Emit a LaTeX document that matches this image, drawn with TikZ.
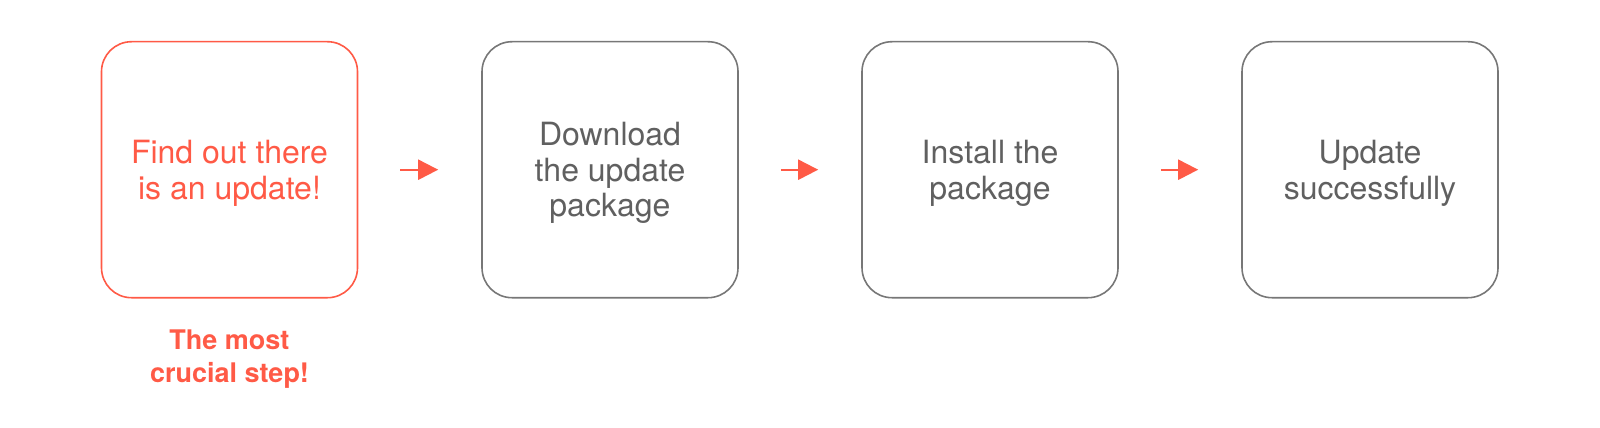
\documentclass[tikz,border=0pt]{standalone}
\usepackage{fontspec}
\setmainfont{TeX Gyre Heros}
\usetikzlibrary{arrows.meta}
\definecolor{accent}{HTML}{FF5A46}
\definecolor{txtgray}{HTML}{606060}
\definecolor{boxgray}{HTML}{777777}
\begin{document}
\begin{tikzpicture}[x=1pt,y=-1pt,
  stepbox/.style={draw=boxgray, line width=1.6pt, rounded corners=30pt,
    minimum width=256pt, minimum height=256pt, inner sep=0pt,
    align=center, text=txtgray, text depth=0pt,
    font=\fontsize{32}{35.5}\selectfont},
  hotbox/.style={stepbox, draw=accent, text=accent},
  flow/.style={draw=accent, line width=2.2pt,
    -{Triangle[length=20pt,width=20pt]}},
  note/.style={align=center, text=accent, inner sep=0pt, text depth=0pt,
    font=\bfseries\fontsize{27}{33}\selectfont}]
  \useasboundingbox (0,0) rectangle (1600,428);
  \node[hotbox]  (b1) at (229.5,169.7) {Find out there\\is an update!};
  \node[stepbox] (b2) at (610,169.7) {Download\\the update\\package};
  \node[stepbox] (b3) at (990,169.7) {Install the\\package};
  \node[stepbox] (b4) at (1370,169.7) {Update\\successfully};
  \node[note] (n1) at (229.5,356.5) {The most\\crucial step!};
  \draw[flow] ([xshift=42pt]b1.east) -- ([xshift=-43pt]b2.west);
  \draw[flow] ([xshift=42pt]b2.east) -- ([xshift=-43pt]b3.west);
  \draw[flow] ([xshift=42pt]b3.east) -- ([xshift=-43pt]b4.west);
\end{tikzpicture}
\end{document}
